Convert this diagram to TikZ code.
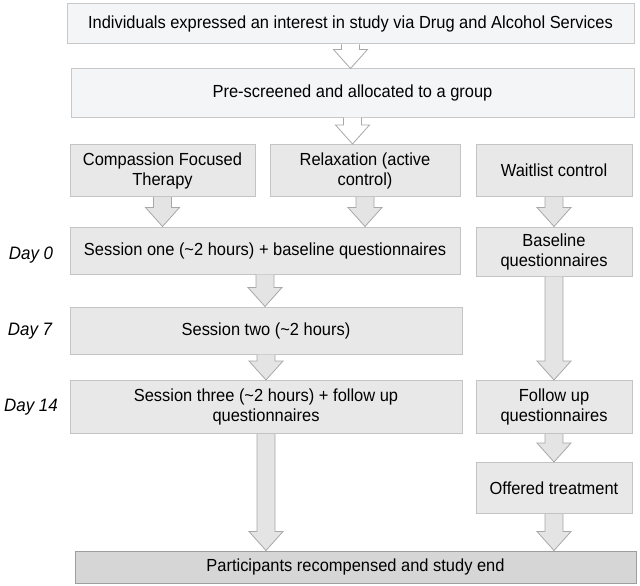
\documentclass[tikz,border=0pt]{standalone}
\usepackage{fontspec}
\setmainfont[FakeStretch=0.94]{Liberation Sans}
\usetikzlibrary{calc}
\definecolor{topfill}{HTML}{F4F5F7}
\definecolor{topline}{HTML}{C8C8C8}
\definecolor{boxfill}{HTML}{E8E8E8}
\definecolor{boxline}{HTML}{C4C4C4}
\definecolor{endfill}{HTML}{D6D6D6}
\definecolor{endline}{HTML}{9E9E9E}
\definecolor{arrfill}{HTML}{E4E4E4}
\definecolor{arrline}{HTML}{A8A8A8}
\newcommand\fatarrow[3][arrfill]{%
  \draw[arrowline, fill=#1] let \p1=(#2.south), \p2=(#3.north) in
    (\x1-9pt,\y1) -- (\x1-9pt,\y2+19pt) -- (\x1-17pt,\y2+19pt) -- (\x1,\y2)
    -- (\x1+17pt,\y2+19pt) -- (\x1+9pt,\y2+19pt) -- (\x1+9pt,\y1);
}
\begin{document}
\begin{tikzpicture}[x=1pt,y=-1pt,
  every node/.style={font=\fontsize{17.5}{20}\selectfont, inner sep=0pt, align=center},
  topbox/.style={draw=topline, fill=topfill, line width=1pt},
  gbox/.style={draw=boxline, fill=boxfill, line width=1pt},
  endbox/.style={draw=endline, fill=endfill, line width=1pt},
  arrowline/.style={draw=arrline, line width=0.8pt, line join=miter},
  daylbl/.style={font=\fontsize{18}{20}\selectfont\itshape}]
\useasboundingbox (0,0) rectangle (640,586);
\node[topbox, minimum width=567pt, minimum height=40pt] (b1) at (350.5,24) {Individuals expressed an interest in study via Drug and Alcohol Services};
\node[topbox, minimum width=563pt, minimum height=48pt] (b2) at (352.5,93) {Pre-screened and allocated to a group};
\node[gbox, minimum width=185pt, minimum height=52pt] (cft) at (162.5,170.5) {Compassion Focused\\Therapy};
\node[gbox, minimum width=190pt, minimum height=52pt] (relax) at (365,170.5) {Relaxation (active\\control)};
\node[gbox, minimum width=156pt, minimum height=52pt] (wait) at (554,170.5) {Waitlist control};
\node[gbox, minimum width=390pt, minimum height=47pt] (s1) at (265,250.5) {Session one (\textasciitilde2 hours) + baseline questionnaires};
\node[gbox, minimum width=156pt, minimum height=49pt] (base) at (554,251.5) {Baseline\\questionnaires};
\node[gbox, minimum width=392pt, minimum height=47pt] (s2) at (266,330.5) {Session two (\textasciitilde2 hours)};
\node[gbox, minimum width=392pt, minimum height=53pt] (s3) at (266,407) {Session three (\textasciitilde2 hours) + follow up\\questionnaires};
\node[gbox, minimum width=156pt, minimum height=53pt] (fu) at (554,407) {Follow up\\questionnaires};
\node[gbox, minimum width=156pt, minimum height=51pt] (off) at (554,488) {Offered treatment};
\node[endbox, minimum width=561pt, minimum height=32pt] (end) at (355.5,567) {Participants recompensed and study end};
\node[daylbl] (d0) at (31,255) {Day 0};
\node[daylbl] (d7) at (30,331) {Day 7};
\node[daylbl] (d14) at (31,407) {Day 14};
\fatarrow[white]{b1}{b2}
\fatarrow[white]{b2}{relax}
\fatarrow{cft}{s1}
\fatarrow{relax}{s1}
\fatarrow{wait}{base}
\fatarrow{s1}{s2}
\fatarrow{s2}{s3}
\fatarrow{base}{fu}
\fatarrow{fu}{off}
\fatarrow{s3}{end}
\fatarrow{off}{end}
\end{tikzpicture}
\end{document}
